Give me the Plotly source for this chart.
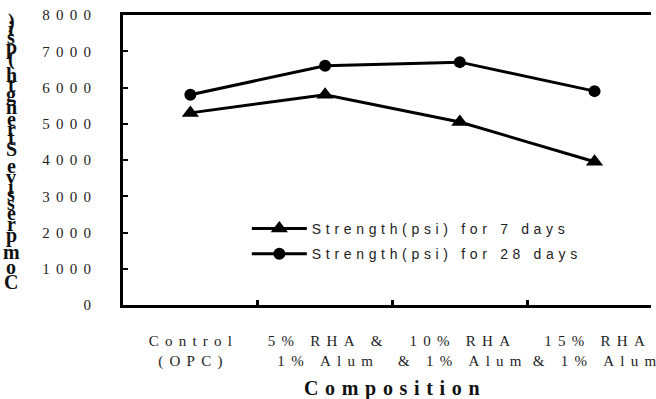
import plotly.graph_objects as go

# ---- data -------------------------------------------------------------
categories = ["Control (OPC)", "5% RHA & 1% Alum", "10% RHA & 1% Alum", "15% RHA & 1% Alum"]
category_lines = [
    ["Control", "(OPC)"],
    ["5% RHA &", "1% Alum"],
    ["10% RHA", "& 1% Alum"],
    ["15% RHA", "& 1% Alum"],
]
strength_7_days = [5300, 5800, 5050, 3950]
strength_28_days = [5800, 6600, 6700, 5900]
series_names = ["Strength(psi) for 7 days", "Strength(psi) for 28 days"]
y_tick_values = [0, 1000, 2000, 3000, 4000, 5000, 6000, 7000, 8000]
x_title = "Composition"
y_title = "Compressive Strength (psi)"

# ---- geometry ---------------------------------------------------------
W, H = 656, 399
M_L, M_T, M_B, M_R = 123, 15, 94, 0
PLOT_W = W - M_L - M_R
PLOT_H = H - M_T - M_B
CAT_PX = 136  # pixel width of one category slot

SERIF = "Liberation Serif"
SANS = "Liberation Sans"


def spread(text, gap):
    """Letter-spaced text."""
    return gap.join(text)


def px_to_paper_x(px):
    return (px - M_L) / PLOT_W


def px_to_paper_y(py):
    return (M_T + PLOT_H - py) / PLOT_H


serif_gap = "\u2004\u200a"
sans_gap = "\u2004"

tick_text = ["<br>".join(spread(line, serif_gap) for line in lines) for lines in category_lines]
y_tick_text = [spread(str(v), serif_gap) for v in y_tick_values]

fig = go.Figure()
fig.add_trace(go.Scatter(
    x=categories, y=strength_7_days, name=spread(series_names[0], sans_gap),
    mode="lines+markers", legendgroup="a",
    line=dict(color="black", width=3),
    marker=dict(symbol="triangle-up", size=15, color="black"),
))
fig.add_trace(go.Scatter(
    x=categories, y=strength_28_days, name=spread(series_names[1], sans_gap),
    mode="lines+markers", legendgroup="b",
    line=dict(color="black", width=3),
    marker=dict(symbol="circle", size=12, color="black"),
))

x_right = -0.5 + PLOT_W / CAT_PX

fig.update_layout(
    width=W, height=H,
    margin=dict(l=M_L, r=M_R, t=M_T, b=M_B, pad=0),
    paper_bgcolor="white", plot_bgcolor="white",
    showlegend=True,
    legend=dict(
        x=px_to_paper_x(248), y=px_to_paper_y(213), xanchor="left", yanchor="top",
        xref="paper", yref="paper",
        bgcolor="rgba(0,0,0,0)", borderwidth=0,
        itemwidth=55, tracegroupgap=4, traceorder="grouped",
        font=dict(family=SANS, size=14, color="#222"),
    ),
    xaxis=dict(
        type="category", categoryorder="array", categoryarray=categories,
        range=[-0.5, x_right],
        tickmode="array", tickvals=categories, ticktext=tick_text,
        tickson="boundaries", ticks="inside", ticklen=5, tickwidth=3, tickcolor="black",
        ticklabelstandoff=20,
        showline=True, linewidth=3, linecolor="black", mirror=True,
        showgrid=False, zeroline=False,
        tickfont=dict(family=SERIF, size=15, color="#222"),
    ),
    yaxis=dict(
        range=[0, 8000], tickmode="array", tickvals=y_tick_values, ticktext=y_tick_text,
        ticks="inside", ticklen=5, tickwidth=2, tickcolor="black",
        ticklabelstandoff=26,
        showline=True, linewidth=3, linecolor="black", mirror=False,
        showgrid=False, zeroline=False,
        tickfont=dict(family=SERIF, size=15, color="#222"),
    ),
)

# x-axis title
fig.add_annotation(
    text="<b>" + spread(x_title, "\u2004") + "</b>",
    xref="paper", yref="paper", x=px_to_paper_x(395), y=px_to_paper_y(388),
    xanchor="center", yanchor="middle", showarrow=False,
    font=dict(family=SERIF, size=20, color="#111"),
)

# y-axis title: upright glyphs stacked bottom-to-top along the axis
ADV = {"C": .722, "o": .5, "m": .833, "p": .556, "r": .444, "e": .444, "s": .389,
       "i": .278, "v": .5, " ": .25, "S": .556, "t": .333, "n": .556, "g": .5,
       "h": .556, "(": .333, ")": .333}
bottom_px, top_px = 290, 18
total = sum(ADV[c] for c in y_title)
k = (bottom_px - top_px) / total
cum = 0.0
for ch in y_title:
    centre = bottom_px - (cum + ADV[ch] / 2) * k
    cum += ADV[ch]
    if ch == " ":
        continue
    fig.add_annotation(
        text="<b>" + ch + "</b>", xref="paper", yref="paper",
        x=px_to_paper_x(10), y=px_to_paper_y(centre),
        xanchor="center", yanchor="middle", showarrow=False,
        font=dict(family=SERIF, size=20, color="#111"),
    )

fig.write_html("out.html")
